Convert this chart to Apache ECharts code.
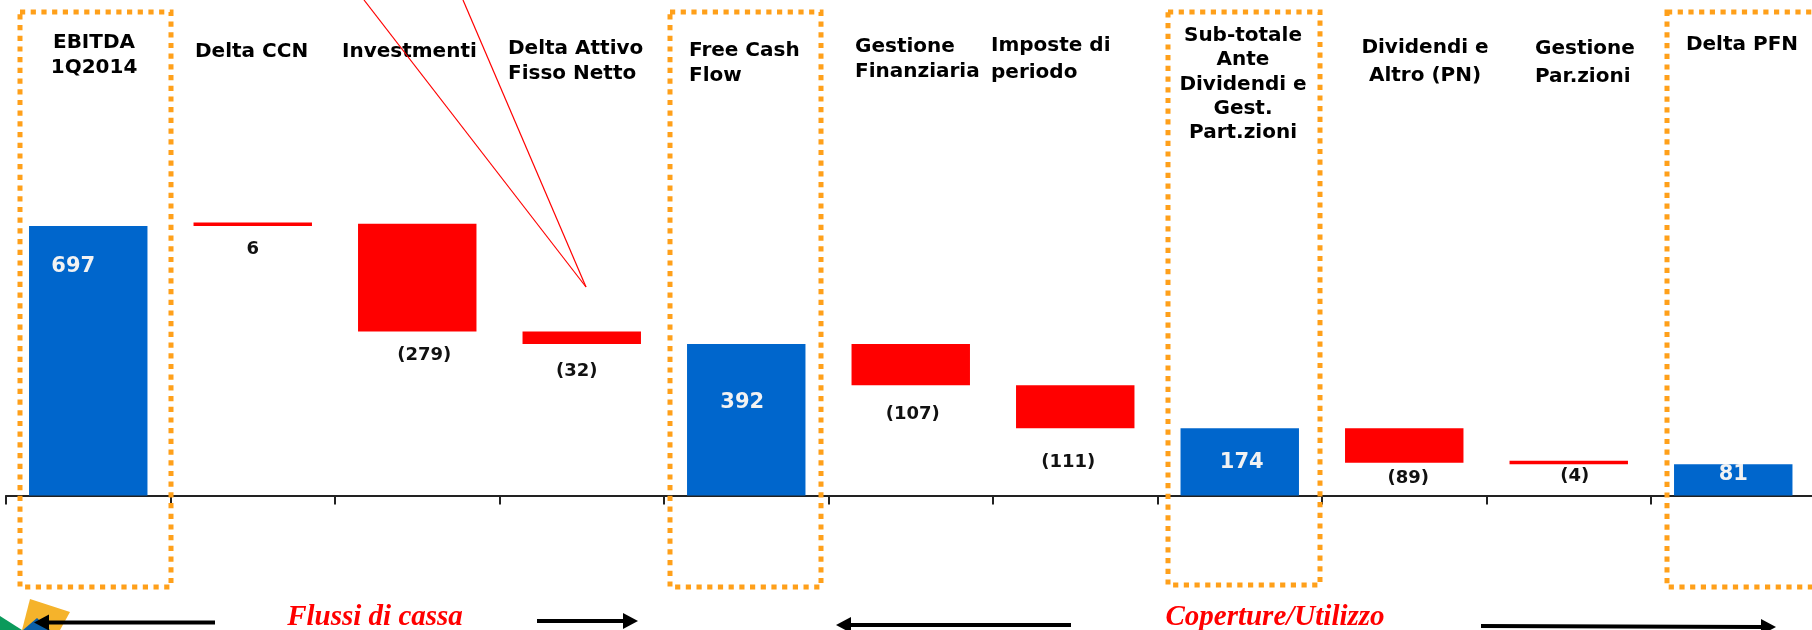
<!DOCTYPE html>
<html><head><meta charset="utf-8">
<style>html,body{margin:0;padding:0;background:#fff}#c{width:1812px;height:630px;overflow:hidden}</style>
<script src="https://cdn.jsdelivr.net/npm/echarts@6/dist/echarts.min.js"></script>
</head><body><div id="c"></div>
<script>
const categories = ['EBITDA\n1Q2014','Delta CCN','Investmenti','Delta Attivo\nFisso Netto','Free Cash\nFlow','Gestione\nFinanziaria','Imposte di\nperiodo','Sub-totale\nAnte\nDividendi e\nGest.\nPart.zioni','Dividendi e\nAltro (PN)','Gestione\nPar.zioni','Delta PFN'];
const hiddenBase = [0,697,424,392,0,285,174,0,85,81,0];
const totals     = [697,null,null,null,392,null,null,174,null,null,81];
const movements  = [null,6,279,32,null,107,111,null,89,4,null];
const valueLabels = ['697','6','(279)','(32)','392','(107)','(111)','174','(89)','(4)','81'];
const bottomTitles = ['Flussi di cassa','Coperture/Utilizzo'];

// layout, px
const labelOffsets = [[-15,-94],[0,25],[7,78],[-5,34],[-4,-17],[2,50],[-7,56],[2,1],[4,33],[6,14],[0,-5]];
// x, y of first line centre, align, line height
const headerPos = [[94,43,'center',24.5],[195,52,'left',25],[342,52,'left',25],[508,49,'left',25],[689,51,'left',25],[855,47,'left',25],[991,46,'left',27],[1243,36,'center',24.2],[1425,47.5,'center',28.5],[1535,49,'left',28],[1742,45,'center',25]];
const boxes = [[20,12,151,575],[670,12,151,575],[1168,12,152,573],[1667,12,160,575]];

const HFONT = {fontFamily:'DejaVu Sans',fontWeight:'bold',fill:'#000',fontSize:20};
const g = [];
boxes.forEach(b=>g.push({type:'rect',z:5,shape:{x:b[0],y:b[1],width:b[2],height:b[3]},style:{fill:null,stroke:'#FFA01A',lineWidth:5,lineDash:[5.2,5.5]}}));
categories.forEach((t,i)=>{
  const p=headerPos[i];
  g.push({type:'text',z:6,x:p[0],y:p[1]-p[3]/2,style:Object.assign({text:t,align:p[2],verticalAlign:'top',lineHeight:p[3]},HFONT)});
});
const red=(a)=>({type:'line',z:6,shape:{x1:a,y1:0,x2:586,y2:287},style:{stroke:'#FF0000',lineWidth:1.2}});
g.push(red(364),red(463));
// logo
g.push({type:'polygon',z:1,shape:{points:[[30,599],[70,612],[60,630],[22,630]]},style:{fill:'#F5B32B'}});
g.push({type:'polygon',z:2,shape:{points:[[0,616],[22,630],[0,630]]},style:{fill:'#0B9A5B'}});
g.push({type:'polygon',z:2,shape:{points:[[37,618],[50,630],[23,630]]},style:{fill:'#0B5FA8'}});
const arrow=(x1,y1,x2,y2)=>{
  const a=Math.atan2(y2-y1,x2-x1),L=15,W=8,c=Math.cos(a),s=Math.sin(a);
  g.push({type:'line',z:7,shape:{x1,y1,x2:x2-L*c,y2:y2-L*s},style:{stroke:'#000',lineWidth:4}});
  g.push({type:'polygon',z:7,shape:{points:[[x2,y2],[x2-L*c-W*s,y2-L*s+W*c],[x2-L*c+W*s,y2-L*s-W*c]]},style:{fill:'#000'}});
};
arrow(215,622.5,34,622.5);arrow(537,621,638,621);arrow(1071,625,836,625);arrow(1481,626,1776,627);
const ST={fontFamily:'Liberation Serif',fontWeight:'bold',fontStyle:'italic',fontSize:29,fill:'#FF0000',verticalAlign:'middle',align:'center'};
g.push({type:'text',z:7,x:375,y:617.5,style:Object.assign({text:bottomTitles[0]},ST)});
g.push({type:'text',z:7,x:1275,y:617.5,style:Object.assign({text:bottomTitles[1]},ST)});

const lab=(i,color,size)=>({show:true,position:'inside',offset:labelOffsets[i],formatter:valueLabels[i],color,fontFamily:'DejaVu Sans',fontWeight:'bold',fontSize:size});
const chart=echarts.init(document.getElementById('c'),null,{renderer:'canvas'});
chart.setOption({
  animation:false,
  grid:{left:6,width:1809.5,top:0,bottom:134.5,containLabel:false,outerBoundsMode:'none'},
  xAxis:{type:'category',data:categories,boundaryGap:true,
    axisLine:{show:true,lineStyle:{color:'#222',width:2}},
    axisTick:{show:true,length:9,alignWithLabel:false,lineStyle:{color:'#222',width:2}},
    axisLabel:{show:false}},
  yAxis:{type:'value',min:0,max:1282,show:false,splitLine:{show:false}},
  series:[
    {name:'base',type:'bar',stack:'w',barWidth:'72%',itemStyle:{color:'transparent'},data:hiddenBase,silent:true},
    {name:'Totali',type:'bar',stack:'w',barWidth:'72%',itemStyle:{color:'#0066CC'},
      data:totals.map((v,i)=>v?{value:v,label:lab(i,'#F2F2F2',21)}:{value:v,label:{show:false}})},
    {name:'Movimenti',type:'bar',stack:'w',barWidth:'72%',barMinHeight:3.5,itemStyle:{color:'#FF0000'},
      data:movements.map((v,i)=>v?{value:v,label:lab(i,'#111',18)}:{value:v,label:{show:false}})}
  ],
  graphic:{elements:g}
});
</script></body></html>
